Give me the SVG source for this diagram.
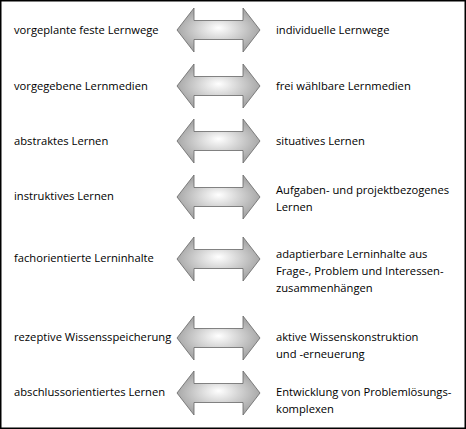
<svg xmlns="http://www.w3.org/2000/svg" width="466" height="429" viewBox="0 0 466 429">
<defs>
<radialGradient id="g" cx="0.5" cy="0.5" r="0.5" fx="0.5" fy="0.45">
<stop offset="0" stop-color="#ffffff"/>
<stop offset="1" stop-color="#a8a8a8"/>
</radialGradient>
<path id="arr" d="M-41.5,0 L-24.5,-22 L-24.5,-9.5 L24.5,-9.5 L24.5,-22 L41.5,0 L24.5,22 L24.5,9.5 L-24.5,9.5 L-24.5,22 Z"/>
</defs>
<style>
text{font-family:"Open Sans","Noto Sans",sans-serif;font-size:11.2px;fill:#000}
.a{fill:url(#g);stroke:#666;stroke-width:0.8}
</style>
<rect x="0.75" y="0.75" width="464.5" height="427.5" fill="#fff" stroke="#000" stroke-width="1.5"/>
<g id="connectors">
<use href="#arr" class="a" x="218.5" y="30"/>
<use href="#arr" class="a" x="218.5" y="86"/>
<use href="#arr" class="a" x="218.5" y="141"/>
<use href="#arr" class="a" x="218.5" y="197"/>
<use href="#arr" class="a" x="218.5" y="259"/>
<use href="#arr" class="a" x="218.5" y="338"/>
<use href="#arr" class="a" x="218.5" y="393"/>
</g>
<g id="left1"><text x="14" y="34">vorgeplante feste Lernwege</text></g>
<g id="left2"><text x="14" y="90">vorgegebene Lernmedien</text></g>
<g id="left3"><text x="14" y="145">abstraktes Lernen</text></g>
<g id="left4"><text x="14" y="200">instruktives Lernen</text></g>
<g id="left5"><text x="14" y="262">fachorientierte Lerninhalte</text></g>
<g id="left6"><text x="14" y="341">rezeptive Wissensspeicherung</text></g>
<g id="left7"><text x="14" y="396">abschlussorientiertes Lernen</text></g>
<g id="right1"><text x="276" y="34">individuelle Lernwege</text></g>
<g id="right2"><text x="276" y="90">frei wählbare Lernmedien</text></g>
<g id="right3"><text x="276" y="145">situatives Lernen</text></g>
<g id="right4"><text x="276" y="194">Aufgaben- und projektbezogenes</text><text x="276" y="211">Lernen</text></g>
<g id="right5"><text x="276" y="258">adaptierbare Lerninhalte aus</text><text x="276" y="275">Frage-, Problem und Interessen-</text><text x="276" y="292">zusammenhängen</text></g>
<g id="right6"><text x="276" y="341">aktive Wissenskonstruktion</text><text x="276" y="358">und -erneuerung</text></g>
<g id="right7"><text x="276" y="396">Entwicklung von Problemlösungs-</text><text x="276" y="413">komplexen</text></g>
</svg>
